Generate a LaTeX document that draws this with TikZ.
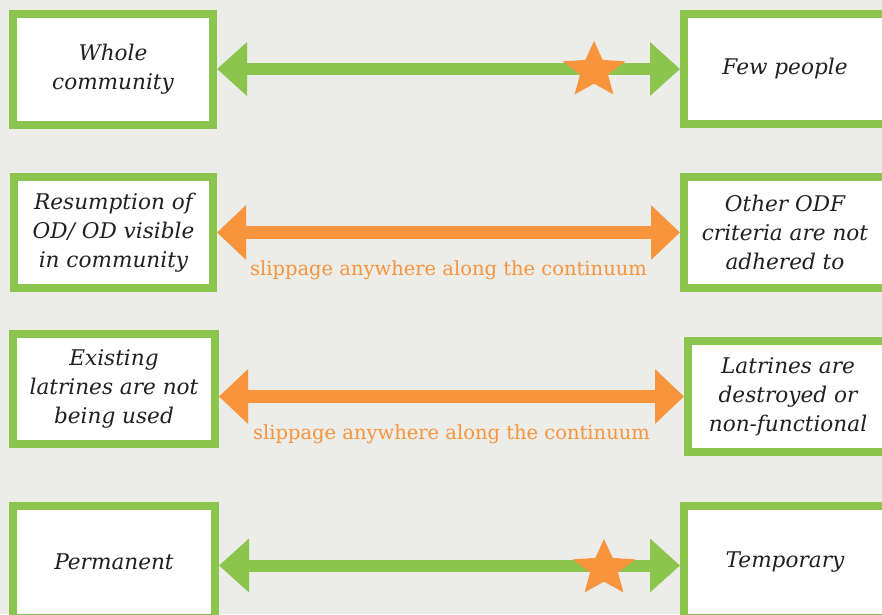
\documentclass[tikz,border=0pt]{standalone}
\usepackage{fontspec}
\setmainfont{DejaVu Serif}
\usetikzlibrary{arrows.meta,shapes.geometric}
\definecolor{bg}{RGB}{236,236,232}
\definecolor{grn}{RGB}{139,197,78}
\definecolor{org}{RGB}{247,148,60}
\definecolor{txt}{RGB}{35,31,32}
\begin{document}
\begin{tikzpicture}[x=1pt,y=-1pt,
  box/.style={draw=grn, line width=8pt, fill=white, inner sep=0pt, align=center,
    text=txt, font=\itshape\fontsize{21.6}{29}\selectfont},
  garrow/.style={draw=grn, fill=grn, line width=12pt,
    {Triangle[length=30pt,width=52pt]}-{Triangle[length=30pt,width=52pt]}},
  oarrow/.style={draw=org, fill=org, line width=13.5pt,
    {Triangle[length=29pt,width=53pt]}-{Triangle[length=29pt,width=53pt]}},
  sliplabel/.style={pos=0.5, anchor=base, yshift=-43pt, text=org,
    font=\fontsize{19.5}{22}\selectfont},
  starnode/.style={star, star points=5, star point ratio=2.25, fill=org,
    inner sep=0pt, minimum size=59pt, xscale=1.12}
]
\useasboundingbox (0,0) rectangle (882,614);
\clip (0,0) rectangle (882,614);
\fill[bg] (0,0) rectangle (882,614);

% row 1
\node[box, minimum width=200pt, minimum height=111pt] (l1) at (113,69) {Whole\\community};
\node[box, minimum width=202pt, minimum height=110pt] (r1) at (785,69) {Few people};
\draw[garrow] (l1.east |- r1.west) -- (r1.west);
\node[starnode] (s1) at (594,70.5) {};

% row 2
\node[box, minimum width=199pt, minimum height=111pt] (l2) at (113.5,232.5) {Resumption of\\OD/ OD visible\\in community};
\node[box, minimum width=202pt, minimum height=111pt] (r2) at (785,232.5) {Other ODF\\criteria are not\\adhered to};
\draw[oarrow] (l2.east |- r2.west) -- node[sliplabel] {slippage anywhere along the continuum} (r2.west);

% row 3
\node[box, minimum width=202pt, minimum height=110pt] (l3) at (114,389) {Existing\\latrines are not\\being used};
\node[box, minimum width=200pt, minimum height=111pt] (r3) at (788,396.5) {Latrines are\\destroyed or\\non-functional};
\draw[oarrow] (l3.east |- r3.west) -- node[sliplabel] {slippage anywhere along the continuum} (r3.west);

% row 4
\coordinate (a4) at (450,565.5);
\node[box, minimum width=202pt, minimum height=112pt] (l4) at (114,562) {Permanent};
\node[box, minimum width=202pt, minimum height=112pt] (r4) at (785,562) {Temporary};
\draw[garrow] (l4.east |- a4) -- (r4.west |- a4);
\node[starnode] (s4) at (604,568.5) {};
\end{tikzpicture}
\end{document}
